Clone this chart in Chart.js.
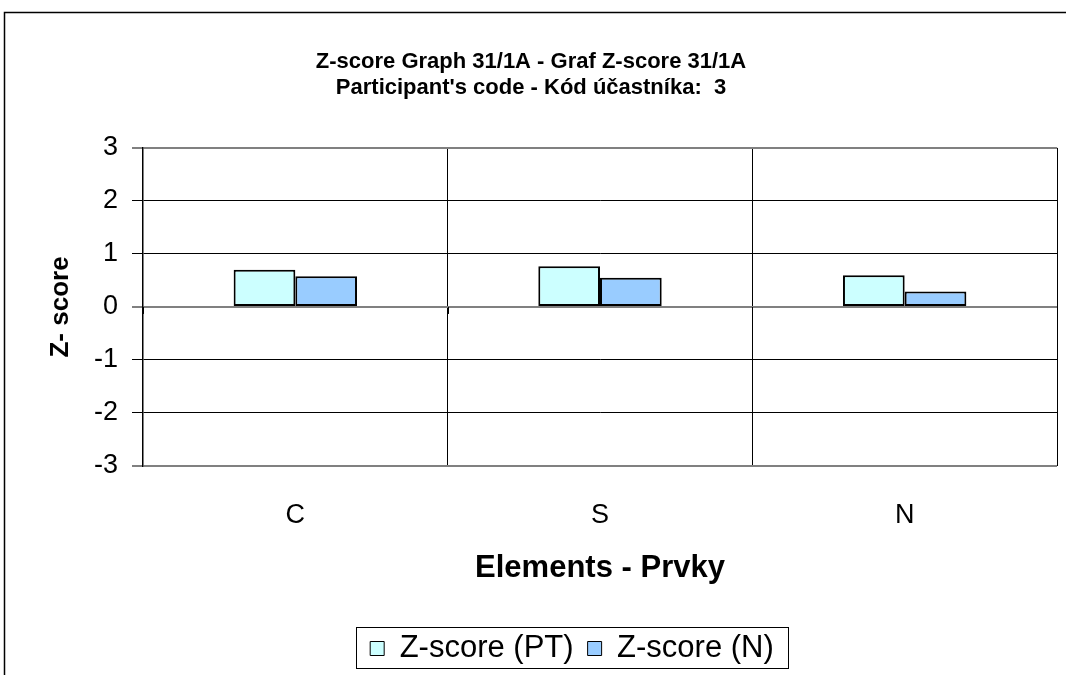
<!DOCTYPE html>
<html>
<head>
<meta charset="utf-8">
<script src="https://cdn.jsdelivr.net/npm/chart.js@4"></script>
<style>
  body { margin: 0; background: #fff; }
  canvas { display: block; }
</style>
</head>
<body>
<canvas id="zscore" width="1066" height="675"></canvas>
<script>
const categories = ["C", "S", "N"];
const ptValues = [0.70, 0.77, 0.60];
const nValues = [0.58, 0.55, 0.29];
const seriesNames = ["Z-score (PT)", "Z-score (N)"];
const yTicks = [-3, -2, -1, 0, 1, 2, 3];

const FONT = "'Liberation Sans', Arial, sans-serif";

// white page, outer frame, box round the legend, small ticks on the zero line
const framePlugin = {
	id: "frame",
	afterUpdate(chart) {
		// legend and title are not centred on the canvas in the original
		const lg = chart.legend;
		lg.left += 21;
		lg.right += 21;
		lg.adjustHitBoxes();
		const tb = chart.titleBlock;
		tb.left -= 20;
		tb.right -= 20;
	},
	beforeDraw(chart) {
		const ctx = chart.ctx;
		ctx.save();
		ctx.fillStyle = "#fff";
		ctx.fillRect(0, 0, chart.width, chart.height);
		ctx.restore();
	},
	afterDraw(chart) {
		const ctx = chart.ctx;
		ctx.save();
		ctx.strokeStyle = "#000";
		ctx.lineWidth = 1.5;
		ctx.strokeRect(4.5, 12.5, chart.width + 10, chart.height + 10);

		// category ticks at y = 0
		const xs = chart.scales.x, ys = chart.scales.y;
		const y0 = ys.getPixelForValue(0);
		ctx.lineWidth = 1;
		ctx.beginPath();
		for (let i = 0; i <= categories.length; i++) {
			const x = Math.round(xs.getPixelForValue(i - 0.5)) + 0.5;
			ctx.moveTo(x, y0);
			ctx.lineTo(x, y0 + 7);
		}
		ctx.stroke();

		// legend frame
		const lg = chart.legend;
		const pad = lg.options.labels.padding;
		const lw = lg.lineWidths[0];
		const x0 = (lg.left + pad + lg.right - lw) / 2;
		const x1 = x0 + lw - pad;
		const cy = lg.top + lg.height / 2;
		ctx.strokeRect(Math.round(x0 - 14) + 0.5, Math.round(cy - 20) + 0.5,
			Math.round(x1 - x0 + 28), 41);
		ctx.restore();
	}
};

new Chart(document.getElementById("zscore"), {
	type: "bar",
	data: {
		labels: categories,
		datasets: [{
			label: seriesNames[0],
			data: ptValues,
			backgroundColor: "#CCFFFF",
			borderColor: "#000",
			borderWidth: 2,
			borderSkipped: false,
			categoryPercentage: 0.405,
			barPercentage: 1
		}, {
			label: seriesNames[1],
			data: nValues,
			backgroundColor: "#99CCFF",
			borderColor: "#000",
			borderWidth: 2,
			borderSkipped: false,
			categoryPercentage: 0.405,
			barPercentage: 1
		}]
	},
	options: {
		responsive: false,
		animation: false,
		layout: { padding: { top: 0, left: 45, right: 9, bottom: 1 } },
		plugins: {
			title: {
				display: true,
				text: ["Z-score Graph 31/1A - Graf Z-score 31/1A", "Participant's code - Kód účastníka:  3"],
				color: "#000",
				font: { family: FONT, size: 22, weight: "bold", lineHeight: 1.18 },
				padding: { top: 49, bottom: 47 }
			},
			legend: {
				position: "bottom",
				labels: {
					color: "#000",
					font: { family: FONT, size: 31 },
					boxWidth: 14,
					boxHeight: 14,
					padding: 14,
					generateLabels(chart) {
						return chart.data.datasets.map((ds, i) => ({
							text: ds.label,
							fillStyle: ds.backgroundColor,
							strokeStyle: "#000",
							lineWidth: 1,
							datasetIndex: i
						}));
					}
				}
			},
			tooltip: { enabled: false }
		},
		scales: {
			x: {
				afterFit(scale) {
					scale.height = 153;
				},
				grid: {
					offset: true,
					color: ctx => ctx.index === categories.length ? "#808080" : "#000",
					lineWidth: ctx => ctx.index === categories.length ? 2 : 1,
					drawTicks: false
				},
				border: { display: false },
				ticks: {
					color: "#000",
					font: { family: FONT, size: 27 },
					padding: 33
				},
				title: {
					display: true,
					text: "Elements - Prvky",
					color: "#000",
					font: { family: FONT, size: 31, weight: "bold" },
					padding: { top: 0, bottom: 32 }
				}
			},
			y: {
				min: -3,
				max: 3,
				afterBuildTicks(scale) {
					scale.ticks = yTicks.map(v => ({ value: v }));
				},
				afterFit(scale) {
					scale.width = 98;
				},
				grid: {
					color: ctx => (ctx.tick && [0, 3, -3].includes(ctx.tick.value)) ? "#808080" : "#000",
					lineWidth: ctx => (ctx.tick && [0, 3, -3].includes(ctx.tick.value)) ? 2 : 1,
					tickLength: 11
				},
				border: { color: "#000", width: 1.5 },
				ticks: {
					color: "#000",
					font: { family: FONT, size: 27 },
					padding: 14
				},
				title: {
					display: true,
					text: "Z- score",
					color: "#000",
					font: { family: FONT, size: 26, weight: "bold" },
					padding: { top: 0, bottom: 12 }
				}
			}
		}
	},
	plugins: [framePlugin]
});
</script>
</body>
</html>
